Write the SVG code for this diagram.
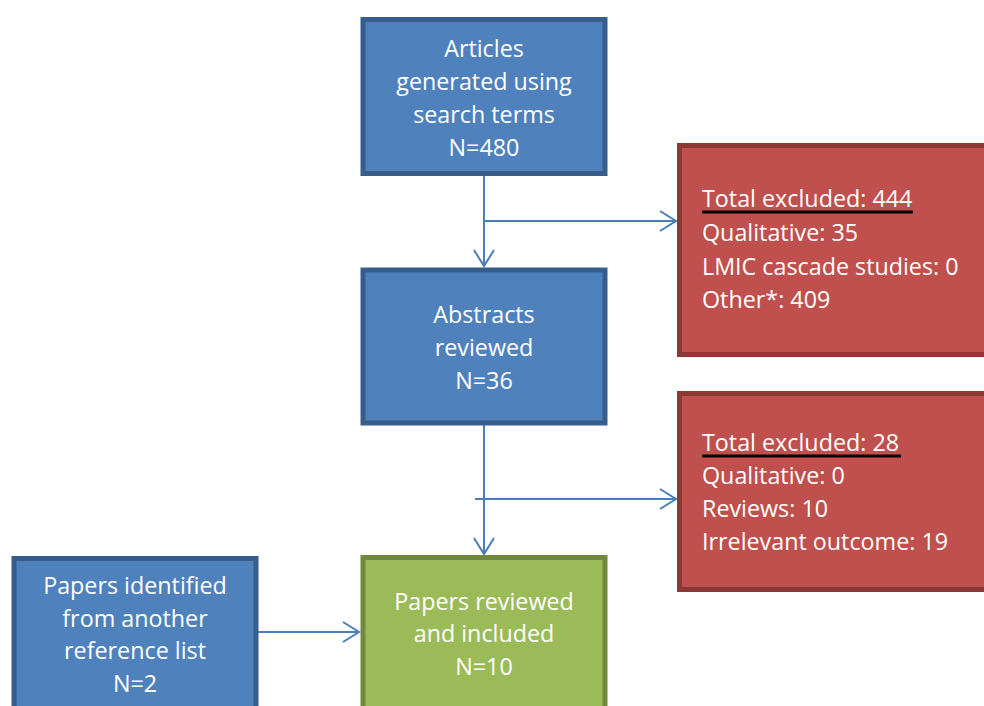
<svg xmlns="http://www.w3.org/2000/svg" width="984" height="706" viewBox="0 0 984 706">
  <style>
    .blue { fill: #4f81bd; stroke: #385d8a; stroke-width: 5; }
    .red { fill: #c0504d; stroke: #8c3836; stroke-width: 5; }
    .green { fill: #9bbb59; stroke: #71893f; stroke-width: 5; }
    .t { font-family: "Open Sans", "Liberation Sans", Arial, sans-serif; font-size: 23.3px; fill: #ffffff; }
    .c { text-anchor: middle; }
    .conn { fill: none; stroke: #4a7ebb; stroke-width: 2; }
    .ul { stroke: #000000; stroke-width: 3; }
  </style>
  <defs>
    <marker id="arrow" markerUnits="userSpaceOnUse" markerWidth="24" markerHeight="24" refX="18" refY="11" orient="auto">
      <path d="M2,1 L18,11 L2,21" fill="none" stroke="#4a7ebb" stroke-width="2"/>
    </marker>
  </defs>
  <rect width="984" height="706" fill="#ffffff"/>

  <!-- connectors -->
  <g id="connectors">
    <line class="conn" x1="484" y1="176" x2="484" y2="266" marker-end="url(#arrow)"/>
    <line class="conn" x1="484" y1="221" x2="676" y2="221" marker-end="url(#arrow)"/>
    <line class="conn" x1="484" y1="425" x2="484" y2="554" marker-end="url(#arrow)"/>
    <line class="conn" x1="475" y1="499" x2="676" y2="499" marker-end="url(#arrow)"/>
    <line class="conn" x1="258" y1="632" x2="359" y2="632" marker-end="url(#arrow)"/>
  </g>

  <g id="articles">
    <rect class="blue" x="363" y="19.5" width="242" height="154"/>
    <text class="t c" x="484" y="57">Articles</text>
    <text class="t c" x="484" y="90">generated using</text>
    <text class="t c" x="484" y="123">search terms</text>
    <text class="t c" x="484" y="156">N=480</text>
  </g>

  <g id="abstracts">
    <rect class="blue" x="363" y="270" width="242" height="153"/>
    <text class="t c" x="484" y="323">Abstracts</text>
    <text class="t c" x="484" y="356">reviewed</text>
    <text class="t c" x="484" y="389">N=36</text>
  </g>

  <g id="included">
    <rect class="green" x="363" y="557.5" width="242" height="160"/>
    <text class="t c" x="484" y="610">Papers reviewed</text>
    <text class="t c" x="484" y="642">and included</text>
    <text class="t c" x="484" y="675">N=10</text>
  </g>

  <g id="other-list">
    <rect class="blue" x="14" y="558.5" width="242" height="160"/>
    <text class="t c" x="135" y="594">Papers identified</text>
    <text class="t c" x="135" y="627">from another</text>
    <text class="t c" x="135" y="659">reference list</text>
    <text class="t c" x="135" y="692">N=2</text>
  </g>

  <g id="excluded-1">
    <rect class="red" x="679.5" y="145.5" width="320" height="209"/>
    <text class="t" x="702" y="207">Total excluded: 444</text>
    <line class="ul" x1="702" y1="212" x2="913" y2="212"/>
    <text class="t" x="702" y="241">Qualitative: 35</text>
    <text class="t" x="702" y="275">LMIC cascade studies: 0</text>
    <text class="t" x="702" y="308">Other*: 409</text>
  </g>

  <g id="excluded-2">
    <rect class="red" x="679.5" y="393.5" width="320" height="196"/>
    <text class="t" x="702" y="451">Total excluded: 28</text>
    <line class="ul" x1="702" y1="456" x2="901" y2="456"/>
    <text class="t" x="702" y="484">Qualitative: 0</text>
    <text class="t" x="702" y="517">Reviews: 10</text>
    <text class="t" x="702" y="550">Irrelevant outcome: 19</text>
  </g>
</svg>
